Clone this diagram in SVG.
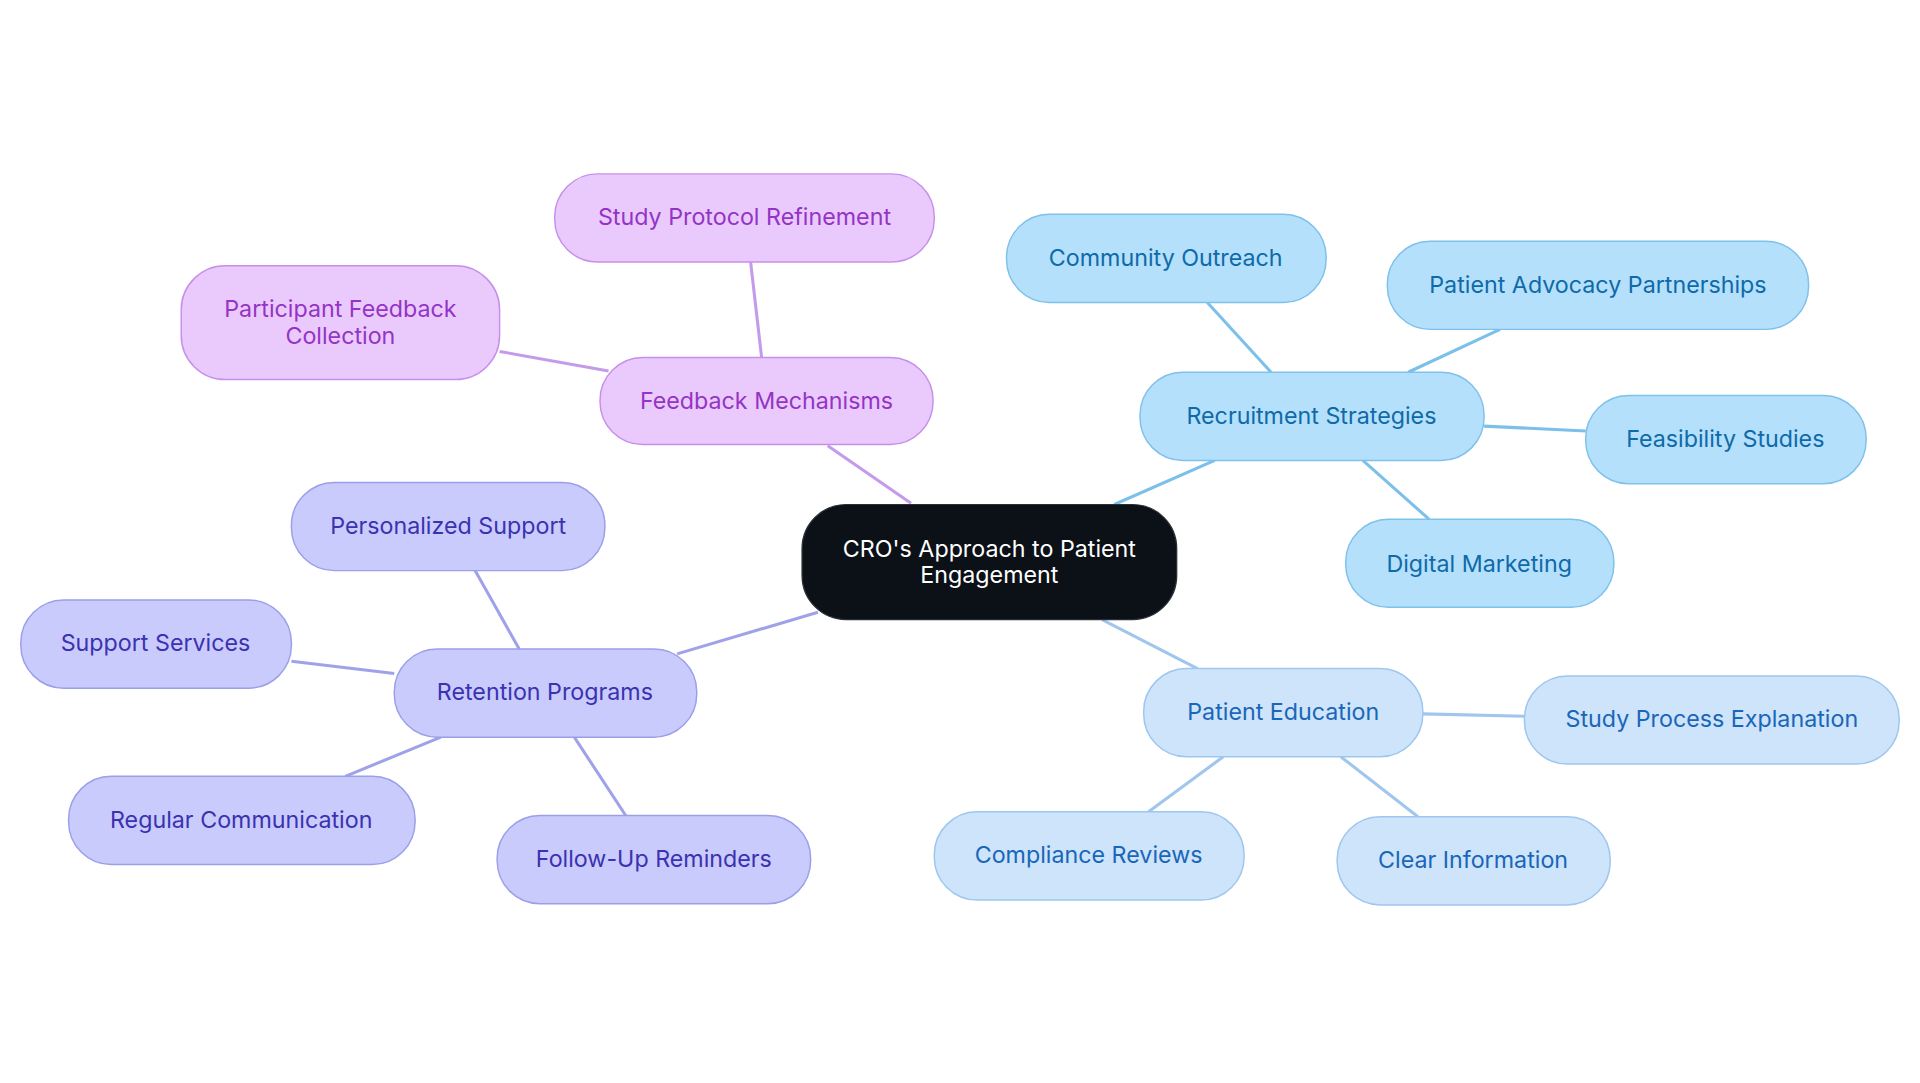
<svg xmlns="http://www.w3.org/2000/svg" width="1920" height="1083" viewBox="0 0 1920 1083">
<style>
text{font-family:Inter,"Noto Sans",sans-serif;font-size:19px;text-anchor:middle;dominant-baseline:central}
.p rect{fill:#eacafd;stroke:#c690ea;stroke-width:1.2}.p text{fill:#9434c6}
.b rect{fill:#b4e0fc;stroke:#7ec1ea;stroke-width:1.2}.b text{fill:#0f6aa8}
.l rect{fill:#cde4fb;stroke:#9ec6ee;stroke-width:1.2}.l text{fill:#1a66b8}
.v rect{fill:#c9cbfd;stroke:#9b9fe8;stroke-width:1.2}.v text{fill:#3b32b0}
#edges line{stroke-width:2.5}
</style>
<rect width="1920" height="1083" fill="#fff"/>
<g transform="scale(1.22449)">
<g id="edges">
<g stroke="#c49bec"><line x1="744" y1="411" x2="676" y2="364"/><line x1="622" y1="292" x2="613" y2="214"/><line x1="497" y1="303" x2="408" y2="287"/></g>
<g stroke="#7cc0ea"><line x1="910" y1="412" x2="992" y2="376"/><line x1="1038" y1="304" x2="986" y2="247"/><line x1="1150" y1="304" x2="1225" y2="269"/><line x1="1212" y1="348" x2="1295" y2="352"/><line x1="1113" y1="376" x2="1167" y2="424"/></g>
<g stroke="#a0c6ee"><line x1="900" y1="506" x2="978" y2="546"/><line x1="1162" y1="583" x2="1245" y2="585"/><line x1="999" y1="618" x2="938" y2="663"/><line x1="1095" y1="618" x2="1158" y2="667"/></g>
<g stroke="#9fa2e8"><line x1="668" y1="500" x2="553" y2="534"/><line x1="424" y1="530" x2="388" y2="466"/><line x1="322" y1="550" x2="238" y2="540"/><line x1="360" y1="602" x2="282" y2="634"/><line x1="469" y1="602" x2="511" y2="666"/></g>
</g>
<g id="center"><rect x="655" y="412" width="306" height="94" rx="36" fill="#0b1117" stroke="#2a2f35"/><text x="808" y="448" fill="#fff">CRO's Approach to Patient</text><text x="808" y="469" fill="#fff">Engagement</text></g>
<g id="feedback" class="p"><rect x="490" y="292" width="272" height="71" rx="35"/><text x="626" y="327">Feedback Mechanisms</text></g>
<g id="spr" class="p"><rect x="453" y="142" width="310" height="72" rx="35"/><text x="608" y="177">Study Protocol Refinement</text></g>
<g id="pfc" class="p"><rect x="148" y="217" width="260" height="93" rx="36"/><text x="278" y="252">Participant Feedback</text><text x="278" y="274">Collection</text></g>
<g id="recruit" class="b"><rect x="931" y="304" width="281" height="72" rx="35"/><text x="1071" y="339">Recruitment Strategies</text></g>
<g id="co" class="b"><rect x="822" y="175" width="261" height="72" rx="35"/><text x="952" y="210">Community Outreach</text></g>
<g id="pap" class="b"><rect x="1133" y="197" width="344" height="72" rx="35"/><text x="1305" y="232">Patient Advocacy Partnerships</text></g>
<g id="fs" class="b"><rect x="1295" y="323" width="229" height="72" rx="35"/><text x="1409" y="358">Feasibility Studies</text></g>
<g id="dm" class="b"><rect x="1099" y="424" width="219" height="72" rx="35"/><text x="1208" y="460">Digital Marketing</text></g>
<g id="pe" class="l"><rect x="934" y="546" width="228" height="72" rx="35"/><text x="1048" y="581">Patient Education</text></g>
<g id="spe" class="l"><rect x="1245" y="552" width="306" height="72" rx="35"/><text x="1398" y="587">Study Process Explanation</text></g>
<g id="cr" class="l"><rect x="763" y="663" width="253" height="72" rx="35"/><text x="889" y="698">Compliance Reviews</text></g>
<g id="ci" class="l"><rect x="1092" y="667" width="223" height="72" rx="35"/><text x="1203" y="702">Clear Information</text></g>
<g id="rp" class="v"><rect x="322" y="530" width="247" height="72" rx="35"/><text x="445" y="565">Retention Programs</text></g>
<g id="ps" class="v"><rect x="238" y="394" width="256" height="72" rx="35"/><text x="366" y="429">Personalized Support</text></g>
<g id="ss" class="v"><rect x="17" y="490" width="221" height="72" rx="35"/><text x="127" y="525">Support Services</text></g>
<g id="rc" class="v"><rect x="56" y="634" width="283" height="72" rx="35"/><text x="197" y="669">Regular Communication</text></g>
<g id="fur" class="v"><rect x="406" y="666" width="256" height="72" rx="35"/><text x="534" y="701">Follow-Up Reminders</text></g>
</g>
</svg>
